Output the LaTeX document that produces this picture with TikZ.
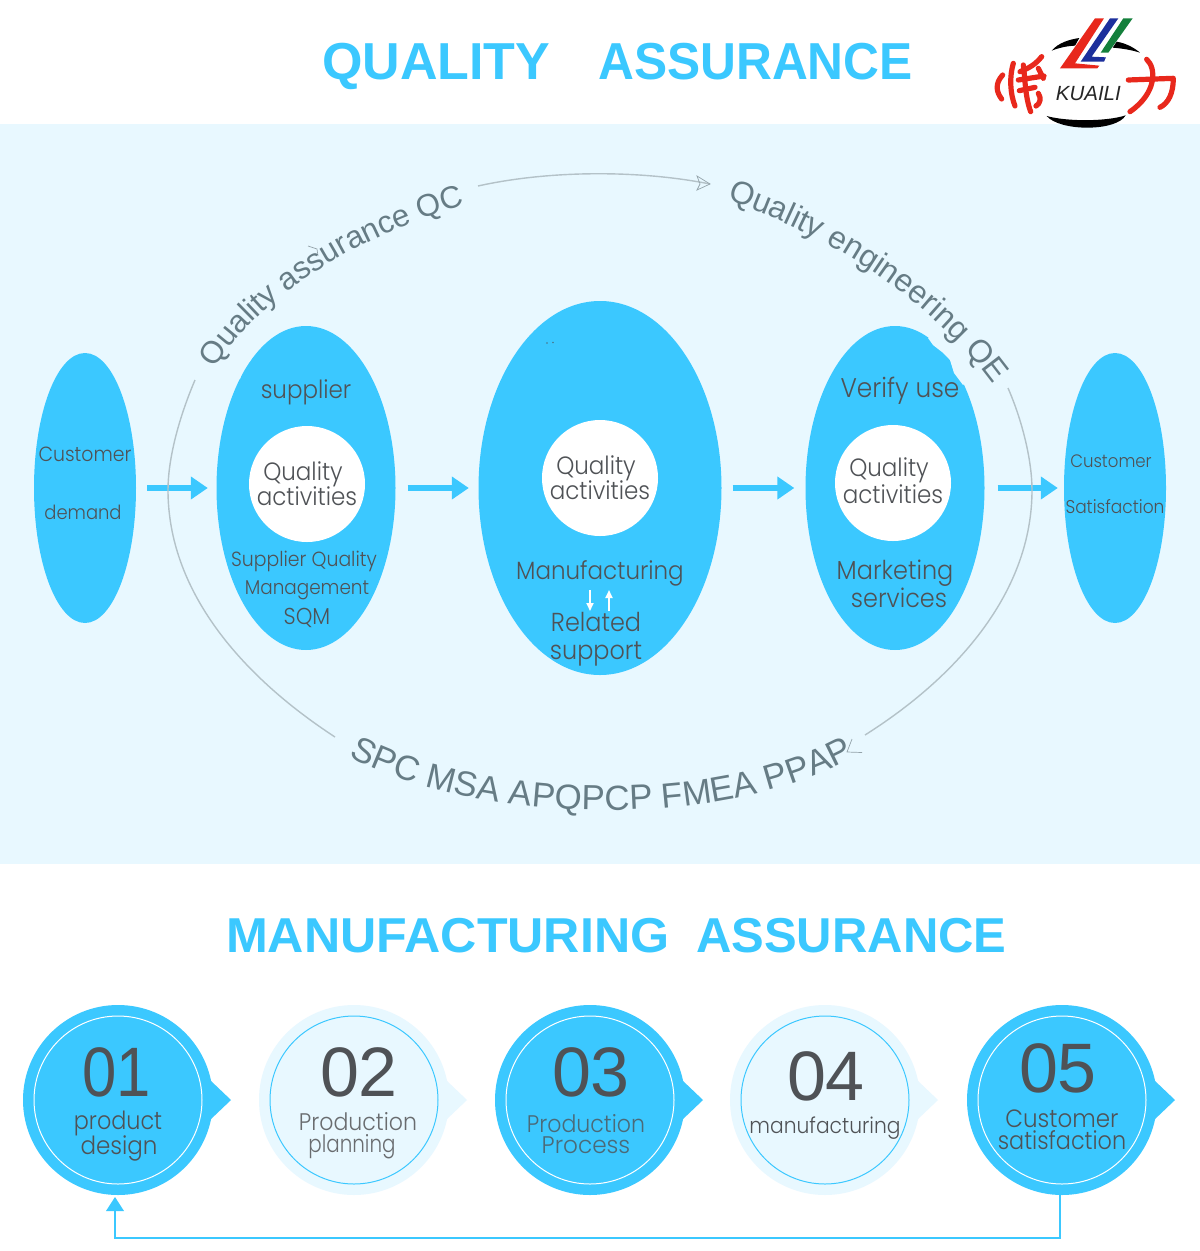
\documentclass[tikz,border=0pt]{standalone}
\usepackage{fontspec}
\usetikzlibrary{shapes.geometric,arrows.meta,decorations.text}
\setmainfont{Liberation Sans}
\newfontfamily\thinfont[FakeStretch=.92]{Poppins Light}
\definecolor{kblue}{HTML}{3BC8FF}
\definecolor{kbg}{HTML}{E8F8FF}
\definecolor{ktxt}{HTML}{4F5256}
\definecolor{karc}{HTML}{667C85}
\definecolor{kline}{HTML}{B4C2C8}
\definecolor{kred}{HTML}{E8281C}
\definecolor{kdblue}{HTML}{1C2F9C}
\definecolor{kgreen}{HTML}{14803C}
\def\arcfont{\color{karc}\fontsize{31.2}{33}\selectfont}
\def\arcfontc{\color{karc}\fontsize{31.8}{33}\selectfont}
\def\arcfontb{\color{karc}\fontsize{34.9}{35}\selectfont}
\newcommand{\fs}[1]{\fontsize{#1}{#1}\selectfont}
\newcommand{\hs}[2]{\scalebox{#1}[1]{#2}}
\tikzset{
  oval/.style={shape=ellipse,fill=kblue,inner sep=0pt,draw=none},
  whitecirc/.style={shape=circle,fill=white,inner sep=0pt,minimum size=116pt},
  head/.style={text=kblue,font=\bfseries\fs{#1},inner sep=0pt,anchor=base west},
  lbl/.style={text=ktxt,align=center,inner sep=0pt,font=\thinfont\fs{#1}},
  bigarrow/.style={draw=kblue,line width=6pt,-{Triangle[length=17pt,width=22pt]}},
  smallarrow/.style={draw=white,line width=1.8pt,-{Triangle[length=8pt,width=7pt]}},
  arcline/.style={draw=kline,line width=1.4pt},
  chevron/.style={draw=karc!70,line width=.7pt},
  darkdisc/.style={shape=circle,fill=kblue,inner sep=0pt,minimum size=190pt},
  lightdisc/.style={shape=circle,fill=kbg,inner sep=0pt,minimum size=190pt},
  darkring/.style={shape=circle,draw=white,line width=1pt,inner sep=0pt,minimum size=168pt},
  lightring/.style={shape=circle,draw=kblue,line width=1pt,inner sep=0pt,minimum size=168pt},
  num/.style={text=ktxt,inner sep=0pt,font=\fs{70}},
  logostroke/.style={draw=kred,line width=5.2pt,line cap=round,line join=round},
}
\begin{document}
\begin{tikzpicture}[x=1pt,y=-1pt]
\useasboundingbox (0,0) rectangle (1200,1251);
\fill[white] (0,0) rectangle (1200,1251);
\fill[kbg] (0,124) rectangle (1200,864);
% titles
\node[head=52] (t1) at (322,79) {QUALITY};
\node[head=52] (t2) at (598,79) {\hs{.955}{ASSURANCE}};
\node[head=49] (t3) at (226,952) {\hs{1.024}{MANUFACTURING}};
\node[head=49] (t4) at (696,952) {ASSURANCE};
% logo
\begin{scope}[shift={(960,0)},x=.3333pt,y=-.3333pt]
\fill[black] (275,152) .. controls (295,128) and (330,118) .. (358,114) -- (345,137) .. controls (320,138) and (295,144) .. (275,152) -- cycle;
\fill[black] (470,125) .. controls (500,130) and (525,145) .. (540,158) .. controls (515,150) and (485,145) .. (458,143) -- cycle;
\fill[black] (260,348) .. controls (320,365) and (440,365) .. (497,346) .. controls (470,395) and (300,395) .. (260,348) -- cycle;
\fill[kred] (405,55) -- (432,55) -- (345,190) -- (418,197) -- (412,205) -- (300,205) -- cycle;
\fill[kdblue] (450,55) -- (475,55) -- (395,170) -- (438,172) -- (432,185) -- (362,185) -- cycle;
\fill[kgreen] (490,55) -- (518,55) -- (445,158) -- (422,158) -- cycle;
\draw[logostroke] (128,225) .. controls (105,250) and (108,275) .. (125,297);
\draw[logostroke] (160,190) .. controls (148,230) and (150,280) .. (165,318);
\draw[logostroke] (190,195) .. controls (195,230) and (195,290) .. (212,335);
\draw[logostroke] (245,170) .. controls (225,195) and (205,205) .. (180,215);
\draw[logostroke] (175,240) -- (252,228);
\draw[logostroke] (235,205) -- (250,235);
\draw[logostroke] (225,262) -- (178,272);
\draw[logostroke] (235,280) .. controls (245,295) and (240,312) .. (228,318);
\draw[logostroke] (505,240) -- (640,235) .. controls (640,280) and (625,310) .. (600,322);
\draw[logostroke] (560,178) .. controls (590,205) and (590,280) .. (510,335);
\node[text=black!85,font=\itshape\fs{20.5},inner sep=0pt] (logotxt) at (385,280) {KUAILI};
\end{scope}
% ovals
\node[oval,minimum width=102pt,minimum height=270pt] (c1) at (85,488) {};
\node[oval,minimum width=179pt,minimum height=324pt] (c2) at (306,488) {};
\node[oval,minimum width=243pt,minimum height=374pt] (c3) at (600,488) {};
\node[oval,minimum width=179pt,minimum height=324pt] (c4) at (895,488) {};
\node[oval,minimum width=102pt,minimum height=270pt] (c5) at (1115,488) {};
\fill[kbg] (254,354) -- (250,361) -- (244,368) -- (240,379) -- (225,370) -- (240,350) -- cycle;
\fill[kbg] (928,338) -- (933,345) -- (942,352) -- (950,360) -- (954,373) -- (963,385) -- (975,375) -- (945,330) -- cycle;
\fill[ktxt!70!kblue] (547,343) circle (.8pt) (553,342.5) circle (.8pt);
\node[whitecirc] (w2) at (307,484) {};
\node[whitecirc] (w3) at (600,478) {};
\node[whitecirc] (w4) at (893,483) {};
% oval labels
\node[lbl=20.5] (l1a) at (85,454) {Customer};
\node[lbl=19.5] (l1b) at (83,512) {demand};
\node[lbl=18] (l5a) at (1111,461) {Customer};
\node[lbl=18.5] (l5b) at (1115,507) {Satisfaction};
\node[lbl=25] (l2a) at (306,392) {supplier};
\node[lbl=25] (l2b) at (307,484) {\hspace*{-8pt}Quality\\[-1pt]activities};
\node[lbl=20.5] (l2c) at (304,561) {Supplier Quality};
\node[lbl=20] (l2d) at (307,590) {Management};
\node[lbl=23] (l2e) at (307,618) {SQM};
\node[lbl=25] (l3b) at (600,478) {\hspace*{-8pt}Quality\\[-1pt]activities};
\node[lbl=25] (l3c) at (600,573) {Manufacturing};
\node[lbl=26] (l3d) at (596,639) {Related\\[2pt]support};
\node[lbl=27] (l4a) at (900,391) {Verify use};
\node[lbl=25] (l4b) at (893,481) {\hspace*{-8pt}Quality\\[1pt]activities};
\node[lbl=26] (l4c) at (895,584) {Marketing\\[0pt]\hspace*{8pt}services};
% block arrows
\draw[bigarrow,shorten <=11pt,shorten >=8.5pt] (c1.east) -- (c2.west);
\draw[bigarrow,shorten <=12pt,shorten >=9.5pt] (c2.east) -- (c3.west);
\draw[bigarrow,shorten <=11pt,shorten >=11pt] (c3.east) -- (c4.west);
\draw[bigarrow,shorten <=13pt,shorten >=6pt] (c4.east) -- (c5.west);
\coordinate (m1) at (590,590); \coordinate (m2) at (590,611);
\coordinate (m3) at (609,611); \coordinate (m4) at (609,590);
\draw[smallarrow] (m1) -- (m2);
\draw[smallarrow] (m3) -- (m4);
% big arcs
\draw[arcline] (478,186) .. controls (550,170) and (640,170) .. (710,184);
\draw[chevron] (697,176) -- (710,184) -- (697,190) -- (700,184) -- cycle;
\draw[arcline] (195,380) .. controls (178,420) and (168,460) .. (168,490) .. controls (168,590) and (240,675) .. (335,737);
\draw[arcline] (1008,388) .. controls (1022,420) and (1032,460) .. (1032,490) .. controls (1032,590) and (960,675) .. (865,735);
\draw[chevron] (852,739) -- (847,752) -- (862,752.5);
\draw[chevron] (308,246) -- (317,249) -- (318,256);
% text on arcs
\path[decorate,decoration={text along path,text={|\arcfont|Quality assurance QC}}]
  (215,369) .. controls (260,295) and (360,235) .. (468,204) -- (540,190);
\path[decorate,decoration={text along path,text={|\arcfontc|Quality engineering QE}}]
  (727,200) .. controls (830,235) and (930,300) .. (990,380) -- (1020,430);
\path[decorate,decoration={text along path,text={|\arcfontb|SPC MSA APQPCP FMEA PPAP}}]
  (349,756) .. controls (450,815) and (700,840) .. (855,757) -- (900,730);
% bottom row
\draw[kblue,line width=2.5pt] (1060,1195) -- (1060,1238) -- (115,1238) -- (115,1205);
\fill[kblue] (115,1197) -- (124,1211) -- (106,1211) -- cycle;
\foreach \n/\cx/\st/\rg in {a/118/darkdisc/darkring,b/354/lightdisc/lightring,c/590/darkdisc/darkring,d/825/lightdisc/lightring,e/1062/darkdisc/darkring}{
  \ifnum\pdfstrcmp{\st}{darkdisc}=0 \fill[kblue] (\cx+92,1080) -- (\cx+113,1100) -- (\cx+92,1120) -- cycle;
  \else \fill[kbg] (\cx+92,1080) -- (\cx+113,1100) -- (\cx+92,1120) -- cycle; \fi
  \node[\st] (d\n) at (\cx,1100) {};
  \node[\rg] (r\n) at (\cx,1100) {};
}
\node[num] (n1) at (117,1072) {\hs{.88}{01}};
\node[num] (n2) at (359,1072) {02};
\node[num] (n3) at (591,1072) {03};
\node[num] (n4) at (826,1076) {04};
\node[num] (n5) at (1058,1068) {05};
\node[lbl=25] (b1) at (118,1136) {\hs{.97}{product}\\[-2pt]\hspace*{2pt}design};
\node[lbl=24,text=ktxt!85] (b2) at (358,1135.5) {Production\\[-1.5pt]\hspace*{-12pt}\hs{.9}{planning}};
\node[lbl=24,text=ktxt!80!kblue] (b3) at (586,1134.5) {Production\\[-3pt]\hs{1.05}{Process}};
\node[lbl=22] (b4) at (825,1128) {manufacturing};
\node[lbl=25] (b5) at (1062,1129.5) {Customer\\[-2.5pt]\hs{.97}{satisfaction}};
\end{tikzpicture}
\end{document}
